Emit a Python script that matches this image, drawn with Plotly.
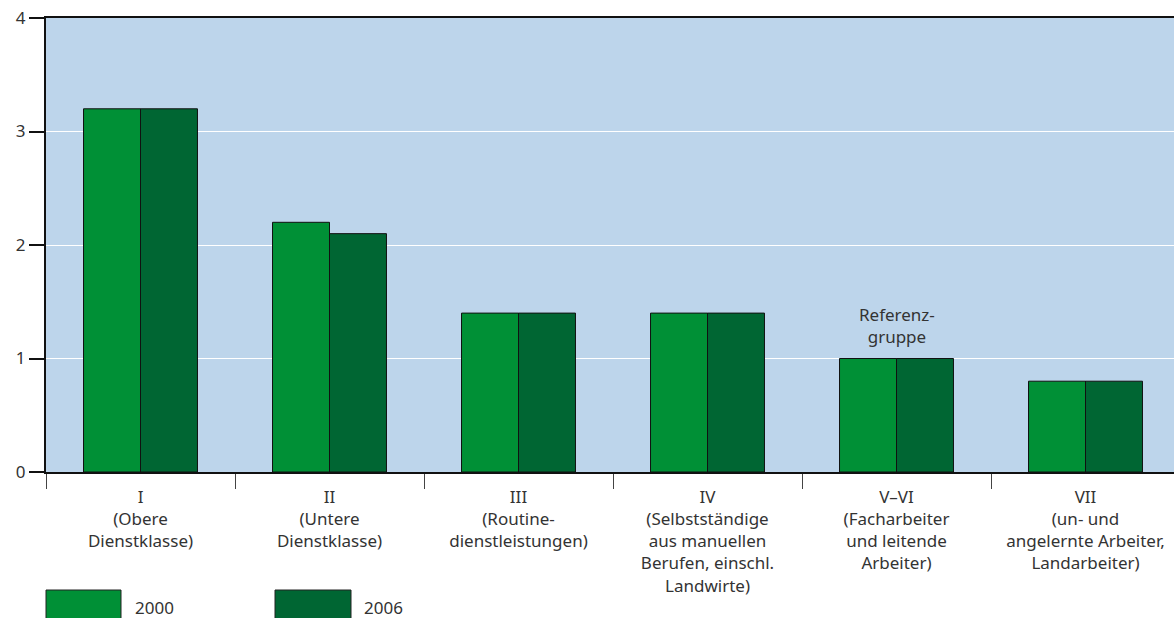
import plotly.graph_objects as go

categories = [
    "I<br>(Obere<br>Dienstklasse)",
    "II<br>(Untere<br>Dienstklasse)",
    "III<br>(Routine-<br>dienstleistungen)",
    "IV<br>(Selbstständige<br>aus manuellen<br>Berufen, einschl.<br>Landwirte)",
    "V–VI<br>(Facharbeiter<br>und leitende<br>Arbeiter)",
    "VII<br>(un- und<br>angelernte Arbeiter,<br>Landarbeiter)",
]
values_2000 = [3.2, 2.2, 1.4, 1.4, 1.0, 0.8]
values_2006 = [3.2, 2.1, 1.4, 1.4, 1.0, 0.8]
series_names = ["2000", "2006"]
colors = ["#009036", "#006633"]

FONT = "'Noto Sans', 'Open Sans', sans-serif"
TXT = "#333333"
FS = 17

fig = go.Figure()
for name, vals, col in zip(series_names, [values_2000, values_2006], colors):
    fig.add_trace(go.Bar(
        x=categories, y=vals, name=name,
        marker=dict(color=col, line=dict(color="#111111", width=1)),
        showlegend=False, hoverinfo="skip",
    ))

# body margin is removed below, so figure pixels == page pixels
W, H = 1174, 618
L, R, T, B = 46, 0, 18, 146
pw, ph = W - L - R, H - T - B

def px(x):
    return (x - L) / pw

def py(y):
    return (H - B - y) / ph

# manual legend
leg = [(46, 121, 133, "2000", colors[0]), (275, 351, 362, "2006", colors[1])]
for x0, x1, tx, label, col in leg:
    fig.add_shape(type="rect", xref="paper", yref="paper",
                  x0=px(x0), x1=px(x1), y0=py(590), y1=py(625),
                  fillcolor=col, line=dict(color="#222222", width=1))
    fig.add_annotation(xref="paper", yref="paper", x=px(tx), y=py(607),
                       text=label, showarrow=False, xanchor="left", yanchor="middle",
                       font=dict(family=FONT, size=FS, color=TXT))

fig.add_annotation(x=categories[4], y=1.0, text="Referenz-<br>gruppe",
                   showarrow=False, yanchor="bottom", yshift=9,
                   font=dict(family=FONT, size=FS, color=TXT))

fig.update_layout(
    width=W, height=H,
    margin=dict(l=L, r=R, t=T, b=B),
    paper_bgcolor="white",
    plot_bgcolor="#BDD5EB",
    barmode="group",
    bargap=0.397,
    bargroupgap=0,
    font=dict(family=FONT, size=FS, color=TXT),
    xaxis=dict(
        type="category",
        range=[-0.5, -0.5 + pw / 189.0],
        tickson="boundaries",
        ticks="outside", ticklen=15, tickcolor="#444444", tickwidth=1,
        showline=True, linecolor="#111111", linewidth=1.5, mirror=True,
        showgrid=False,
        tickfont=dict(family=FONT, size=FS, color=TXT),
        tickangle=0,
        ticklabelstandoff=9,
        ticklabeloverflow="allow",
        automargin=False,
    ),
    yaxis=dict(
        range=[0, 4],
        tickvals=[0, 1, 2, 3, 4],
        ticks="outside", ticklen=15, tickcolor="#111111", tickwidth=1.5,
        showline=True, linecolor="#111111", linewidth=2,
        showgrid=True, gridcolor="white", gridwidth=1,
        zeroline=False,
        tickfont=dict(family=FONT, size=FS, color=TXT),
        ticklabeloverflow="allow",
        automargin=False,
    ),
)

fig.write_html("out.html", config={"displayModeBar": False},
               post_script="document.body.style.margin='0';")
